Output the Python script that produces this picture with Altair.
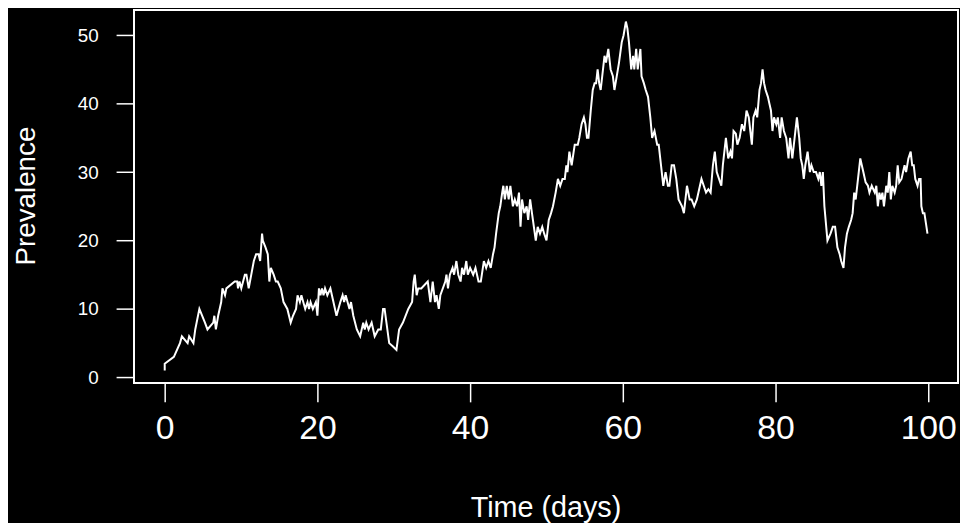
import altair as alt
import pandas as pd

time_days = [
    0.0, 0.0, 1.2, 2.0, 2.25, 3.0, 3.2, 3.76, 4.0, 4.54, 5.27, 5.6, 6.36, 6.5, 6.7, 7.0,
    7.4, 7.56, 7.9, 8.08, 9.17, 9.5, 9.6, 9.8, 10.03, 10.5, 10.7, 11.0, 11.67, 11.97, 12.3, 12.5,
    12.75, 12.85, 13.2, 13.5, 13.7, 13.9, 14.27, 14.56, 14.8, 15.2, 15.56, 16.06, 16.5, 16.8, 17.2, 17.4,
    17.7, 17.9, 18.4, 18.7, 18.9, 19.1, 19.4, 19.8, 20.0, 20.2, 20.4, 20.6, 20.8, 21.0, 21.3, 21.7,
    21.9, 22.5, 23.0, 23.3, 23.5, 23.7, 24.2, 24.4, 24.7, 25.16, 25.6, 26.0, 26.2, 26.4, 26.7, 27.1,
    27.5, 27.97, 28.3, 28.6, 28.8, 29.4, 29.9, 30.35, 30.7, 31.2, 31.9, 32.4, 32.6, 32.75, 33.0, 33.2,
    33.6, 34.45, 34.8, 35.1, 35.4, 35.6, 35.9, 36.1, 36.75, 36.9, 37.1, 37.35, 37.7, 37.9, 38.2, 38.45,
    38.75, 38.95, 39.2, 39.5, 39.7, 40.0, 40.4, 40.7, 41.1, 41.4, 41.8, 42.1, 42.4, 42.7, 43.0, 43.2,
    43.4, 43.75, 43.95, 44.2, 44.35, 44.55, 44.8, 45.05, 45.27, 45.6, 45.85, 46.15, 46.4, 46.6, 46.8, 47.1,
    47.4, 47.6, 47.86, 48.1, 48.6, 48.85, 49.15, 49.45, 49.7, 50.0, 50.3, 50.6, 50.85, 51.2, 51.5, 51.8,
    52.1, 52.4, 52.6, 52.75, 53.0, 53.3, 53.7, 53.95, 54.1, 54.3, 54.6, 54.9, 55.1, 55.3, 55.5, 55.8,
    56.06, 56.3, 56.5, 56.7, 56.9, 57.1, 57.6, 57.8, 58.1, 58.4, 58.7, 58.9, 59.2, 59.5, 59.86, 60.1,
    60.4, 60.6, 60.8, 61.1, 61.35, 61.5, 61.75, 61.95, 62.3, 62.45, 62.75, 63.0, 63.3, 63.6, 63.84, 64.15,
    64.5, 64.7, 64.9, 65.3, 65.6, 65.9, 66.1, 66.4, 66.7, 67.0, 67.3, 67.75, 68.0, 68.4, 68.75, 69.0,
    69.35, 69.7, 70.1, 70.3, 70.6, 70.9, 71.2, 71.5, 71.8, 72.05, 72.3, 72.6, 72.9, 73.1, 73.5, 73.8,
    74.1, 74.3, 74.5, 74.8, 75.0, 75.3, 75.6, 75.9, 76.2, 76.5, 76.7, 76.9, 77.1, 77.4, 77.6, 77.9,
    78.1, 78.3, 78.5, 78.7, 79.0, 79.2, 79.4, 79.6, 79.8, 80.1, 80.3, 80.6, 80.8, 81.1, 81.4, 81.7,
    81.9, 82.2, 82.4, 82.8, 83.1, 83.3, 83.5, 83.7, 83.9, 84.2, 84.5, 84.7, 85.0, 85.3, 85.6, 85.8,
    86.0, 86.2, 86.4, 86.8, 87.2, 87.5, 87.8, 88.1, 88.4, 88.6, 88.9, 89.1, 89.35, 89.6, 89.9, 90.1,
    90.3, 90.5, 90.9, 91.1, 91.3, 91.5, 91.8, 92.1, 92.3, 92.6, 93.0, 93.2, 93.4, 93.6, 93.8, 94.0,
    94.2, 94.5, 94.7, 94.9, 95.1, 95.3, 95.6, 95.8, 96.0, 96.2, 96.5, 96.7, 96.9, 97.1, 97.4, 97.7,
    97.9, 98.1, 98.3, 98.6, 98.8, 99.0, 99.1, 99.3, 99.5, 99.7, 99.9,
]
prevalence = [
    1, 2, 3, 5, 6, 5, 6, 5, 7, 10, 8, 7, 8, 9, 7, 9,
    11, 13, 12, 13, 14, 14, 13, 14, 13, 15, 15, 13, 17, 18, 18, 17,
    21, 20, 19, 18, 14, 16, 15, 14, 14, 13, 11, 10, 8, 9, 10, 12,
    11, 12, 10, 11, 10, 11, 10, 11, 9, 13, 12, 13, 12, 13, 12, 13,
    12, 9, 11, 12, 11, 12, 10, 11, 9, 7, 6, 8, 7, 8, 7, 8,
    6, 7, 7, 10, 10, 5, 4.5, 4, 7, 8, 10, 11, 14, 15, 12, 13,
    13, 14, 11, 14, 11, 12, 10, 12, 14, 15, 13, 15, 16, 15, 17, 15,
    14, 16, 15, 17, 15, 16, 15, 16, 14, 14, 17, 16, 17, 16, 18, 19,
    21, 24, 25, 27, 28, 26, 28, 26, 28, 25, 26, 25, 27, 22, 26, 24,
    25, 23, 26, 24, 20, 22, 21, 22, 21, 20, 23, 24, 25, 27, 29, 28,
    29, 29, 31, 30, 33, 31, 34, 34, 34, 35, 37, 38, 37, 35, 35, 39,
    42, 43, 43, 45, 43, 42, 47, 46, 48, 45, 44, 42, 44, 46, 49, 50,
    52, 51, 49, 45, 47, 45, 48, 45, 48, 44, 43, 42, 41, 38, 35, 36,
    34, 34, 32, 28, 30, 28, 28, 31, 31, 29, 26, 25, 24, 28, 26, 26,
    25, 26, 28, 29, 28, 27, 27.5, 27, 31, 33, 30, 29, 28, 31, 35, 32,
    33, 32, 36, 35.6, 34, 35, 37, 36, 39, 38, 36, 34, 38, 39, 38, 42,
    43, 45, 43, 42, 41, 40, 39, 36, 38, 37, 38, 35, 38, 36, 35, 32,
    35, 32, 34, 38, 35, 32, 31, 29, 31, 33, 30, 31, 30, 30, 29, 30,
    28, 30, 25, 20, 21, 22, 22, 19, 18, 17, 16, 19, 21, 22, 23, 24,
    27, 26, 30, 32, 31, 30, 28.5, 28, 27, 28, 27, 28, 25, 27, 26, 27,
    25, 28, 27, 30, 26, 28, 27, 28, 31, 28.5, 29, 30, 31, 30, 32, 33,
    31, 31, 29, 28, 29, 29, 25, 24, 24, 22.5, 21,
]
x_ticks = [0, 20, 40, 60, 80, 100]
y_ticks = [0, 10, 20, 30, 40, 50]

df = pd.DataFrame({"i": list(range(len(time_days))), "t": time_days, "p": prevalence})

W, H = 831, 376
FONT = "Liberation Sans"

line = alt.Chart(df).mark_line(color="white", strokeWidth=2, strokeJoin="miter").encode(
    x=alt.X(
        "t:Q",
        scale=alt.Scale(domain=[-4.03, 103.9], nice=False, zero=False),
        axis=alt.Axis(
            values=x_ticks, title="Time (days)", domain=False, grid=False,
            tickSize=19, tickWidth=1.5, tickColor="white",
            labelColor="white", labelFontSize=34, labelFont=FONT, labelPadding=10,
            labelFlush=False,
            titleColor="white", titleFontSize=29, titleFont=FONT, titleFontWeight="normal",
            titleX=415, titleY=126, titleBaseline="middle", titleAnchor="middle",
        ),
    ),
    y=alt.Y(
        "p:Q",
        scale=alt.Scale(domain=[-0.83, 53.67], nice=False, zero=False),
        axis=alt.Axis(
            values=y_ticks, title="Prevalence", domain=False, grid=False,
            tickSize=18, tickWidth=1.5, tickColor="white",
            labelColor="white", labelFontSize=19, labelFont=FONT, labelPadding=18,
            labelFlush=False,
            titleColor="white", titleFontSize=28, titleFont=FONT, titleFontWeight="normal",
            titleAngle=270, titleX=-108, titleY=187, titleBaseline="middle",
            titleAlign="center",
        ),
    ),
    order="i:Q",
)

box = alt.Chart(df).mark_rect(fill="transparent", stroke="white", strokeWidth=1.5, clip=False).encode(
    x=alt.value(0), x2=alt.value(W), y=alt.value(0), y2=alt.value(H)
)

chart = (
    alt.layer(line, box)
    .properties(
        width=W, height=H, background="black",
        autosize=alt.AutoSizeParams(type="none"),
        padding={"left": 127, "top": 0, "right": 2, "bottom": 139},
    )
    .configure_view(stroke=None)
)

chart.save("out.html", embed_options={"renderer": "svg", "actions": False})
